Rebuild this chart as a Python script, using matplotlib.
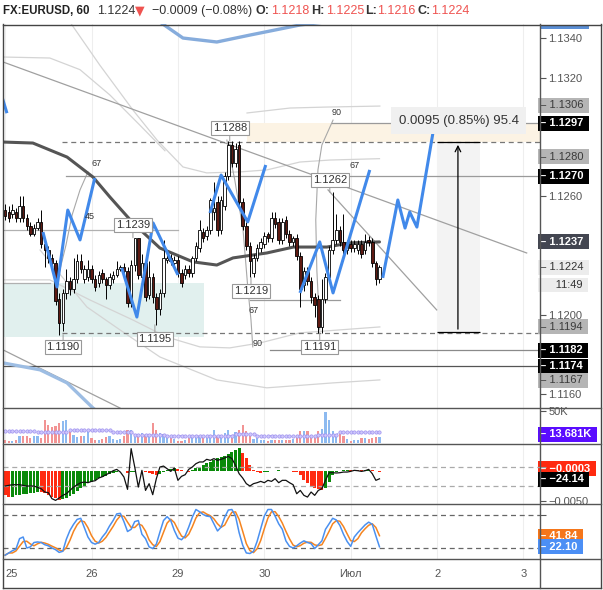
import numpy as np
import matplotlib.pyplot as plt
from matplotlib.lines import Line2D
from matplotlib.patches import Rectangle

plt.rcParams['font.family'] = ['Liberation Sans', 'DejaVu Sans']

# ---------------- data ----------------
opens = [1.1253, 1.1252, 1.1251, 1.1252, 1.1249, 1.1255, 1.1249, 1.1245, 1.1241, 1.1244,
         1.1247, 1.1236, 1.1233, 1.1229, 1.1226, 1.1208, 1.1196, 1.1211, 1.1217, 1.1213,
         1.1218, 1.1227, 1.1218, 1.1219, 1.1223, 1.1218, 1.1216, 1.1221, 1.1218, 1.1215,
         1.1218, 1.1220, 1.1223, 1.1224, 1.1222, 1.1206, 1.1225, 1.1239, 1.1219, 1.1226,
         1.1210, 1.1219, 1.1209, 1.1203, 1.1211, 1.1228, 1.1229, 1.1226, 1.1228, 1.1221,
         1.1220, 1.1223, 1.1221, 1.1229, 1.1234, 1.1242, 1.1240, 1.1243, 1.1252, 1.1257,
         1.1243, 1.1255, 1.1270, 1.1286, 1.1277, 1.1286, 1.1257, 1.1245, 1.1235, 1.1221,
         1.1229, 1.1234, 1.1236, 1.1241, 1.1239, 1.1249, 1.1247, 1.1238, 1.1248, 1.1241,
         1.1237, 1.1239, 1.1230, 1.1215, 1.1222, 1.1217, 1.1209, 1.1208, 1.1194, 1.1208,
         1.1219, 1.1233, 1.1238, 1.1243, 1.1237, 1.1233, 1.1236, 1.1234, 1.1233, 1.1236,
         1.1233, 1.1238, 1.1237, 1.1226, 1.1218]
highs = [1.1256, 1.1255, 1.1256, 1.1254, 1.1260, 1.1260, 1.1251, 1.1247, 1.1246, 1.1249,
         1.1253, 1.1238, 1.1235, 1.1231, 1.1228, 1.1211, 1.1213, 1.1223, 1.1219, 1.1229,
         1.1231, 1.1231, 1.1225, 1.1228, 1.1225, 1.1220, 1.1222, 1.1223, 1.1219, 1.1221,
         1.1222, 1.1227, 1.1225, 1.1226, 1.1224, 1.1228, 1.1239, 1.1239, 1.1231, 1.1229,
         1.1227, 1.1221, 1.1211, 1.1213, 1.1238, 1.1232, 1.1231, 1.1230, 1.1230, 1.1223,
         1.1225, 1.1225, 1.1230, 1.1237, 1.1248, 1.1244, 1.1245, 1.1259, 1.1267, 1.1260,
         1.1260, 1.1272, 1.1288, 1.1288, 1.1287, 1.1288, 1.1259, 1.1247, 1.1237, 1.1231,
         1.1236, 1.1239, 1.1242, 1.1242, 1.1252, 1.1252, 1.1249, 1.1249, 1.1250, 1.1243,
         1.1240, 1.1241, 1.1232, 1.1224, 1.1224, 1.1219, 1.1211, 1.1210, 1.1218, 1.1221,
         1.1235, 1.1262, 1.1251, 1.1245, 1.1251, 1.1238, 1.1238, 1.1238, 1.1238, 1.1238,
         1.1241, 1.1240, 1.1239, 1.1227, 1.1225]
lows = [1.1248, 1.1247, 1.1249, 1.1247, 1.1247, 1.1247, 1.1243, 1.1240, 1.1240, 1.1243,
        1.1234, 1.1224, 1.1226, 1.1222, 1.1205, 1.1190, 1.1192, 1.1208, 1.1210, 1.1211,
        1.1216, 1.1221, 1.1216, 1.1217, 1.1216, 1.1212, 1.1214, 1.1216, 1.1208, 1.1213,
        1.1216, 1.1219, 1.1222, 1.1220, 1.1204, 1.1204, 1.1222, 1.1218, 1.1217, 1.1207,
        1.1208, 1.1206, 1.1195, 1.1200, 1.1209, 1.1226, 1.1225, 1.1225, 1.1219, 1.1214,
        1.1218, 1.1219, 1.1219, 1.1227, 1.1232, 1.1237, 1.1238, 1.1241, 1.1248, 1.1240,
        1.1241, 1.1253, 1.1268, 1.1275, 1.1275, 1.1255, 1.1243, 1.1233, 1.1219, 1.1219,
        1.1227, 1.1232, 1.1234, 1.1237, 1.1237, 1.1244, 1.1236, 1.1236, 1.1239, 1.1235,
        1.1235, 1.1228, 1.1204, 1.1212, 1.1215, 1.1206, 1.1199, 1.1191, 1.1191, 1.1206,
        1.1217, 1.1231, 1.1236, 1.1235, 1.1227, 1.1231, 1.1232, 1.1232, 1.1231, 1.1229,
        1.1231, 1.1235, 1.1224, 1.1215, 1.1216]
closes = [1.1250, 1.1249, 1.1253, 1.1249, 1.1255, 1.1249, 1.1245, 1.1241, 1.1244, 1.1247,
          1.1236, 1.1233, 1.1229, 1.1226, 1.1207, 1.1196, 1.1211, 1.1217, 1.1213, 1.1218,
          1.1227, 1.1223, 1.1223, 1.1223, 1.1218, 1.1214, 1.1220, 1.1218, 1.1215, 1.1219,
          1.1220, 1.1223, 1.1224, 1.1222, 1.1206, 1.1225, 1.1239, 1.1220, 1.1226, 1.1209,
          1.1219, 1.1209, 1.1203, 1.1211, 1.1229, 1.1229, 1.1227, 1.1228, 1.1221, 1.1216,
          1.1223, 1.1221, 1.1229, 1.1235, 1.1243, 1.1239, 1.1243, 1.1258, 1.1254, 1.1243,
          1.1258, 1.1270, 1.1286, 1.1277, 1.1284, 1.1257, 1.1245, 1.1235, 1.1227, 1.1229,
          1.1234, 1.1237, 1.1240, 1.1239, 1.1249, 1.1246, 1.1238, 1.1247, 1.1241, 1.1237,
          1.1239, 1.1230, 1.1213, 1.1222, 1.1217, 1.1209, 1.1205, 1.1194, 1.1208, 1.1219,
          1.1233, 1.1238, 1.1243, 1.1237, 1.1233, 1.1236, 1.1234, 1.1236, 1.1236, 1.1231,
          1.1237, 1.1237, 1.1226, 1.1218, 1.1224]

volume_k = [5.2, 2.6, 3.6, 5.2, 11.5, 11.5, 11.5, 7.8, 11.5, 10.4,
            8.0, 35.4, 28.0, 25.0, 27.0, 31.2, 33.9, 35.4, 20.8, 13.0,
            9.4, 10.4, 11.5, 18.2, 7.8, 5.2, 5.2, 6.2, 9.4, 11.5,
            6.2, 5.2, 6.5, 11.5, 20.8, 19.8, 13.0, 11.5, 15.6, 13.0,
            10.4, 31.2, 20.8, 15.6, 14.6, 10.4, 7.8, 6.2, 2.6, 3.6,
            5.2, 7.8, 10.4, 13.0, 11.5, 9.4, 10.4, 13.0, 19.8, 11.5,
            13.0, 15.6, 19.8, 13.0, 16.7, 20.8, 28.6, 19.0, 11.5, 6.2,
            7.8, 5.2, 5.2, 3.6, 5.2, 5.2, 5.2, 5.2, 4.2, 5.2,
            6.2, 13.0, 18.2, 18.2, 18.2, 13.0, 11.5, 18.2, 22.4, 47.9,
            35.4, 18.2, 14.6, 14.6, 11.5, 6.2, 2.6, 4.2, 5.2, 7.8,
            7.8, 6.2, 7.8, 9.4, 9.4]
volume_ma_k = ([18.2] * 9 + [16.7] * 9 + [19.8] * 12 + [16.7] * 6 + [13.0] * 9 +
               [11.5] * 19 + [14.6] * 6 + [11.5] * 7 + [10.4] * 10 + [13.0] * 6 + [16.7] * 12)

macd_hist = [-40.0, -43.4, -42.8, -40.0, -39.5, -38.9, -38.4, -37.3, -36.1, -34.5,
             -35.6, -37.3, -40.0, -42.8, -45.6, -48.4, -47.3, -44.5, -41.7, -37.8,
             -33.4, -28.9, -25.0, -20.6, -17.8, -15.0, -12.2, -10.0, -7.8, -4.4,
             -2.8, -1.1, 0.6, -0.6, -3.3, -2.2, -1.1, -0.6, 0.2, -1.7,
             -3.3, -5.6, -6.7, -4.4, -1.7, 1.1, 3.3, 4.4, 3.3, 1.7,
             0.3, -1.1, 1.1, 4.4, 7.2, 10.0, 12.8, 15.6, 17.8, 21.1,
             23.9, 25.6, 27.8, 31.1, 35.0, 37.8, 29.5, 21.1, 10.0, 1.7,
             -1.7, -3.3, -2.2, -1.1, -0.6, 0.6, 1.1, 0.6, 0.2, -0.6,
             -1.1, -2.2, -6.7, -15.0, -20.6, -24.5, -27.8, -30.0, -32.2, -28.9,
             -18.9, -6.7, -2.2, -0.6, 1.1, 1.7, 1.1, 2.2, 1.7, 1.1,
             1.7, 2.2, 1.1, -0.6, -1.1]
cci = [-100, -93, -86, -86, -86, -93, -100, -100, -100, -114,
       -128, -163, -170, -233, -251, -226, -198, -181, -146, -111,
       -86, -65, -58, -65, -51, -44, -16, -2, 19, 37,
       61, 75, 47, -5, -135, 293, 100, -111, 65, -146,
       -75, -191, -23, 100, 110, 82, 54, 89, -40, 2,
       19, 75, 100, 135, 153, 153, 181, 170, 188, 170,
       181, 195, 212, 188, 118, 30, -16, -75, -100, -75,
       -65, -51, -65, -40, -51, -23, -65, -40, -40, -65,
       -86, -181, -146, -198, -216, -163, -198, -146, -128, -40,
       40, 40, 37, 40, 47, 47, 54, 65, 61, 54,
       61, 75, 30, -40, -24.14]
stoch_k = [7, 11, 15, 18, 37, 40, 20, 22, 30, 31,
           30, 26, 24, 20, 17, 12, 14, 36, 52, 63,
           72, 74, 57, 40, 30, 27, 30, 40, 48, 60,
           70, 82, 83, 68, 50, 54, 68, 70, 45, 37,
           22, 19, 27, 49, 70, 77, 70, 52, 38, 35,
           42, 58, 76, 90, 86, 81, 78, 77, 64, 51,
           58, 76, 89, 90, 78, 48, 25, 11, 10, 14,
           32, 55, 78, 90, 90, 78, 64, 54, 33, 23,
           20, 24, 29, 33, 30, 28, 19, 26, 33, 54,
           64, 74, 71, 61, 45, 32, 23, 40, 48, 55,
           62, 67, 63, 42, 22.1]

# moving average on the price chart: (bar, price)
ma_bar = [-0.6, 7.7, 17.2, 24.4, 29.1, 35.5, 43.0, 52.2, 58.8, 63.3, 72.7, 80.1, 89.4, 95.8, 104]
ma_price = [1.12874, 1.12869, 1.12798, 1.12697, 1.12596, 1.12465, 1.12338, 1.12268,
            1.12252, 1.12288, 1.12313, 1.12343, 1.12343, 1.12364, 1.12369]

# projection zigzags (bar, price)
zigzags = [
    ([-1.0, 0.5], [1.1311, 1.1302]),
    ([10.5, 14.4, 17.4, 20.8, 24.9], [1.12419, 1.12141, 1.12530, 1.12379, 1.12692]),
    ([32.4, 36.6, 41.1, 48.0], [1.12237, 1.11989, 1.12465, 1.12202]),
    ([56.9, 60.0, 67.4, 72.4], [1.12515, 1.12707, 1.12470, 1.12758]),
    ([81.9, 87.4, 91.1, 101.3], [1.12111, 1.12369, 1.12111, 1.12733]),
    ([104.9, 109.1, 111.1, 112.4, 114.4, 119.7],
     [1.12187, 1.12581, 1.12439, 1.12520, 1.12444, 1.13011]),
]
top_curve = ([43, 49.4, 58.8, 68, 81.9, 93, 110, 150],
             [1.13481, 1.13400, 1.13380, 1.13415, 1.13466, 1.13491, 1.1351, 1.1352])
low_curve = ([-0.6, 9.7, 17.2, 24.4, 30.0], [1.11757, 1.11722, 1.11656, 1.11529, 1.1145])

band_curves = [
    ([18, 26.3, 35.5, 42.2, 49.4, 56, 65.2, 72.7, 81.9, 90.2, 104],
     [1.13481, 1.13263, 1.13036, 1.12884, 1.12748, 1.12718, 1.12723, 1.12733, 1.12773, 1.12783, 1.12790]),
    ([-0.6, 12.4, 20.8, 29.1, 37.4, 44.4],
     [1.13304, 1.13299, 1.13240, 1.13112, 1.12960, 1.12830]),
    ([67.2, 79.1, 89.4, 104.1], [1.13021, 1.13046, 1.13051, 1.13056]),
    ([-0.6, 12.4, 23.6, 35.5, 44.9, 54.1, 62.4, 70.8, 81.9, 93, 104.1],
     [1.12177, 1.12177, 1.12075, 1.11974, 1.11888, 1.11838, 1.11833, 1.11858, 1.11909, 1.11924, 1.11939]),
    ([9.7, 22.7, 31.9, 43, 58.8, 72.7, 91.1, 104.1],
     [1.12328, 1.12040, 1.11924, 1.11787, 1.11671, 1.11631, 1.11656, 1.11671]),
]
arcs = [
    ([23, 20.8, 18.6, 16.9, 15.2, 14.1], [1.12723, 1.12632, 1.12505, 1.12353, 1.12227, 1.12151]),
    ([61.6, 63.8, 66.1, 67.4, 68.3, 68.8], [1.12884, 1.12682, 1.12429, 1.12141, 1.11974, 1.11838]),
    ([91.1, 88, 86.9, 86.3, 86.6, 87.4], [1.12985, 1.12859, 1.12733, 1.12480, 1.12227, 1.11924]),
]
trend_lines = [
    ([-0.6, 144.9], [1.13279, 1.12313]),
    ([89.7, 119.9], [1.12632, 1.12025]),
    ([-0.6, 31.9], [1.11823, 1.11529]),
]
# horizontal levels: (price, start bar, end bar, colour, style)
levels = [
    (1.1270, 17.0, 148.6, '#9a9a9a', '-'),
    (1.12429, -0.6, 48.0, '#b0b0b0', '-'),
    (1.1297, 90.8, 148.6, '#9a9a9a', '-'),
    (1.12075, 68.0, 93.0, '#9a9a9a', '-'),
    (1.1182, 73.6, 148.6, '#8a8a8a', '-'),
    (1.1174, -0.6, 148.6, '#555555', '-'),
    (1.12161, -0.6, 12.4, '#b0b0b0', '-'),
    (1.12874, 15.8, 148.6, '#777777', (0, (4, 3))),
    (1.11909, 15.8, 148.6, '#777777', (0, (4, 3))),
]
callouts = [  # text, bar, box price, tip price
    ('1.1288', 62.4, 1.12945, 1.12880),
    ('1.1239', 35.5, 1.12455, 1.12390),
    ('1.1219', 68.3, 1.12120, 1.12190),
    ('1.1262', 90.2, 1.12682, 1.12620),
    ('1.1190', 16.1, 1.11838, 1.11900),
    ('1.1195', 41.6, 1.11878, 1.11950),
    ('1.1191', 87.4, 1.11838, 1.11910),
]
fib_texts = [('67', 25.5, 1.12768), ('45', 23.6, 1.12495), ('67', 69.1, 1.12020),
             ('90', 70.2, 1.11853), ('90', 92.2, 1.13021), ('67', 97.2, 1.12753)]

day_pos = [0, 24, 48, 72, 96, 120, 144]
day_labels = ['25', '26', '29', '30', 'Июл', '2', '3']

price_ticks = [1.1160, 1.1200, 1.1260, 1.1320, 1.1340]
price_boxes = [  # value, text, face, text colour, bold
    (1.1306, '1.1306', '#b5b5b5', '#3a3a3a', False),
    (1.1297, '1.1297', '#000000', 'white', True),
    (1.1280, '1.1280', '#b5b5b5', '#3a3a3a', False),
    (1.1270, '1.1270', '#000000', 'white', True),
    (1.1237, '1.1237', '#434651', 'white', True),
    (1.1224, '1.1224', '#ececec', '#333333', False),
    (1.12151, '  11:49', '#ececec', '#333333', False),
    (1.1194, '1.1194', '#b5b5b5', '#3a3a3a', False),
    (1.1182, '1.1182', '#000000', 'white', True),
    (1.1174, '1.1174', '#000000', 'white', True),
    (1.1167, '1.1167', '#b5b5b5', '#3a3a3a', False),
]

# ---------------- figure ----------------
W, H = 603, 590
fig = plt.figure(figsize=(W / 100, H / 100), dpi=100)


def prect(x0, y0, x1, y1):
    return [x0 / W, 1 - y1 / H, (x1 - x0) / W, (y1 - y0) / H]


def fline(x0, y0, x1, y1, color='#555555', lw=1.0):
    fig.add_artist(Line2D([x0 / W, x1 / W], [1 - y0 / H, 1 - y1 / H],
                          transform=fig.transFigure, color=color, lw=lw))


def side_label(axis, val, txt, fc, tc, bold=True, tick=True, z=10):
    lead = '\u2013 ' if tick else '   '
    axis.text(1.0, val, lead + txt + ' ', transform=axis.get_yaxis_transform(), ha='left',
              va='center', fontsize=8, color=tc, fontweight='bold' if bold else 'normal',
              zorder=z, bbox=dict(boxstyle='square,pad=0.22', fc=fc, ec='none'), clip_on=False)


ax = fig.add_axes(prect(3, 24, 540, 408))
axv = fig.add_axes(prect(3, 408, 540, 444), sharex=ax)
axm = fig.add_axes(prect(3, 444, 540, 504), sharex=ax)
axs = fig.add_axes(prect(3, 504, 540, 559), sharex=ax)

# cci shares the macd pane; twinx moves the macd ticks left, so create it first
axc = axm.twinx()

for a in (ax, axv, axm, axs):
    for s in a.spines.values():
        s.set_visible(False)
    a.tick_params(axis='x', length=0, labelbottom=False)
    a.yaxis.tick_right()
    a.tick_params(axis='y', length=4, width=0.8, color='#555', labelsize=8,
                  labelcolor='#555', pad=2, labelleft=False, left=False,
                  labelright=True, right=True)
    for d in day_pos:
        a.axvline(d, color='#eeeeee', lw=0.8, zorder=0)

ax.set_xlim(-0.6, 148.6)
ax.set_ylim(1.11529, 1.13471)

x = np.arange(len(closes))
o, h, l, c = map(np.array, (opens, highs, lows, closes))
up = c >= o

# background zones
ax.add_patch(Rectangle((-0.6, 1.11888), 55.8, 1.12161 - 1.11888, color='#e1f0ee', zorder=0.5, lw=0))
ax.add_patch(Rectangle((67.2, 1.12874), 81.4, 1.12970 - 1.12874, color='#fcf3e4', zorder=0.5, lw=0))
ax.add_patch(Rectangle((119.9, 1.11914), 12.0, 1.12874 - 1.11914, color='#f3f3f3', zorder=0.5, lw=0))

for bx, by in band_curves:
    ax.plot(bx, by, color='#d4d4d4', lw=0.9, zorder=1)
for bx, by in arcs:
    ax.plot(bx, by, color='#a8a8a8', lw=0.8, zorder=1)
for bx, by in trend_lines:
    ax.plot(bx, by, color='#a0a0a0', lw=0.9, zorder=1)
for p, x0, x1, col, ls in levels:
    ax.plot([x0, x1], [p, p], color=col, lw=0.9, ls=ls, zorder=1)

ax.plot(*top_curve, color='#86acdc', lw=2.4, zorder=1.5, solid_capstyle='round')
ax.plot(*low_curve, color='#9dbde3', lw=2.4, zorder=1.5)

ax.plot(ma_bar, ma_price, color='#555555', lw=2.2, zorder=2, solid_capstyle='round')

# candles
ax.vlines(x, l, h, color='black', lw=0.7, zorder=3)
ax.bar(x, np.maximum(np.abs(c - o), 0.00004), bottom=np.minimum(o, c), width=0.68,
       color=np.where(up, 'white', '#5e1a12'), edgecolor='black', linewidth=0.6, zorder=4)

for zx, zy in zigzags:
    ax.plot(zx, zy, color='#4189ea', lw=2.2, zorder=5, solid_capstyle='butt')

# measure tool
ax.hlines([1.12874, 1.11914], 119.9, 131.9, color='black', lw=0.9, zorder=4)
ax.annotate('', xy=(125.8, 1.12874), xytext=(125.8, 1.11914),
            arrowprops=dict(arrowstyle='->', color='black', lw=0.9), zorder=4)
ax.text(126.0, 1.12982, '0.0095 (0.85%) 95.4', ha='center', va='center', fontsize=9.5,
        color='#333', zorder=6,
        bbox=dict(boxstyle='square,pad=0.55', fc='#f0f0f0', ec='none'))

for txt, bi, bp, tp in callouts:
    ax.annotate(txt, xy=(bi, tp), xytext=(bi, bp), ha='center', va='center', fontsize=8,
                color='#333', zorder=7,
                bbox=dict(boxstyle='square,pad=0.15', fc='white', ec='#999999', lw=0.8),
                arrowprops=dict(arrowstyle='-', color='#999999', lw=0.7, shrinkA=0, shrinkB=0))
for txt, bi, bp in fib_texts:
    ax.text(bi, bp, txt, fontsize=6.5, color='#333', ha='center', va='center', zorder=6)

ax.set_yticks(price_ticks)
ax.set_yticklabels([f'{v:.4f}' for v in price_ticks])
for v, t, fc, tc, bold in price_boxes:
    side_label(ax, v, t, fc, tc, bold=bold, tick=not t.startswith(' '))

# volume
vol = np.array(volume_k)
axv.set_ylim(-1.56, 54.7)
axv.bar(x, vol, width=0.62, color=np.where(up, '#8dbaf0', '#f29494'), lw=0, zorder=2)
axv.plot(x, volume_ma_k, color='#a99cf3', lw=0.8, ls=':', marker='o', ms=2.4,
         mfc='#cfc8fb', mec='#9f92f0', mew=0.5, zorder=3)
axv.set_yticks([50])
axv.set_yticklabels(['50K'])
side_label(axv, 13.681, '13.681K', '#5a0dff', 'white')

# macd histogram + cci line
hist = np.array(macd_hist)
rising = np.r_[False, hist[1:] >= hist[:-1]]
axm.set_ylim(-55, 45)
axm.bar(x, hist, width=0.8, color=np.where(rising, '#0a8a0a', '#ff2a10'), lw=0, zorder=2)
axm.set_yticks([-50])
axm.set_yticklabels(['\u22120.0050'])
side_label(axm, 3.5, '\u22120.0003', '#ff2a10', 'white', z=9)

axc.set_ylim(-289, 342)
for s in axc.spines.values():
    s.set_visible(False)
axc.set_yticks([-100, 100])
axc.set_yticklabels(['', ''])
axc.tick_params(axis='y', length=4, width=0.8, color='#999')
axc.axhline(100, color='#aaaaaa', lw=0.9, ls=(0, (4, 3)), zorder=1)
axc.axhline(-100, color='#aaaaaa', lw=0.9, ls=(0, (4, 3)), zorder=1)
axc.plot(x, cci, color='#111111', lw=0.9, zorder=3)
side_label(axc, -30, '\u221224.14', 'black', 'white')

# stochastic
k = np.array(stoch_k, dtype=float)
d = np.convolve(k, np.ones(3) / 3, mode='full')[:len(k)]
d[:2] = k[:2]
axs.set_ylim(0, 100)
axs.set_yticks([80])
axs.set_yticklabels([''])
axs.axhline(80, color='#666', lw=0.9, ls=(0, (4, 3)), zorder=1)
axs.axhline(20, color='#666', lw=0.9, ls=(0, (4, 3)), zorder=1)
axs.plot(x, d, color='#f5841f', lw=1.1, zorder=2)
axs.plot(x, k, color='#4a90f0', lw=1.1, zorder=3)
side_label(axs, 41.84, '41.84', '#f5761a', 'white')
side_label(axs, 22.10, '22.10', '#4c8ff5', 'white')

axs.set_xticks(day_pos)
axs.set_xticklabels(day_labels)
axs.tick_params(axis='x', labelbottom=True, length=0, pad=7, labelsize=8, labelcolor='#555')
axs.get_xticklabels()[0].set_horizontalalignment('left')

# frame and separators
fline(3, 24.5, 601, 24.5, '#444')
fline(3, 24, 3, 588, '#444')
fline(601, 24, 601, 588, '#444')
fline(3, 588, 601, 588, '#444')
for yy in (408, 444, 504, 559):
    fline(3, yy, 601, yy, '#555')
fline(540, 24, 540, 588, '#555')
fig.add_artist(Rectangle((541 / W, 1 - 29 / H), 48 / W, 4 / H, transform=fig.transFigure,
                         color='#5b8fd6', lw=0))

# title line
ty = 1 - 11 / H
fs = 9
fig.text(3 / W, ty, 'FX:EURUSD, 60', fontsize=8.3, fontweight='bold', color='#222', va='center')
fig.text(97 / W, ty, '1.1224', fontsize=fs, color='#333', va='center')
fig.text(135 / W, ty, '\u25bc', fontsize=fs, color='#ef5350', va='center', family=['DejaVu Sans'])
fig.text(152 / W, ty, '\u22120.0009 (\u22120.08%)', fontsize=fs, color='#333', va='center')
for lab, val, xl, xv in (('O:', '1.1218', 256, 271), ('H:', '1.1225', 311, 326),
                         ('L:', '1.1216', 365, 377), ('C:', '1.1224', 417, 431)):
    fig.text(xl / W, ty, lab, fontsize=fs, fontweight='bold', color='#333', va='center')
    fig.text(xv / W, ty, val, fontsize=fs, color='#ef5350', va='center')

fig.savefig('out.png', dpi=100, facecolor='white')
